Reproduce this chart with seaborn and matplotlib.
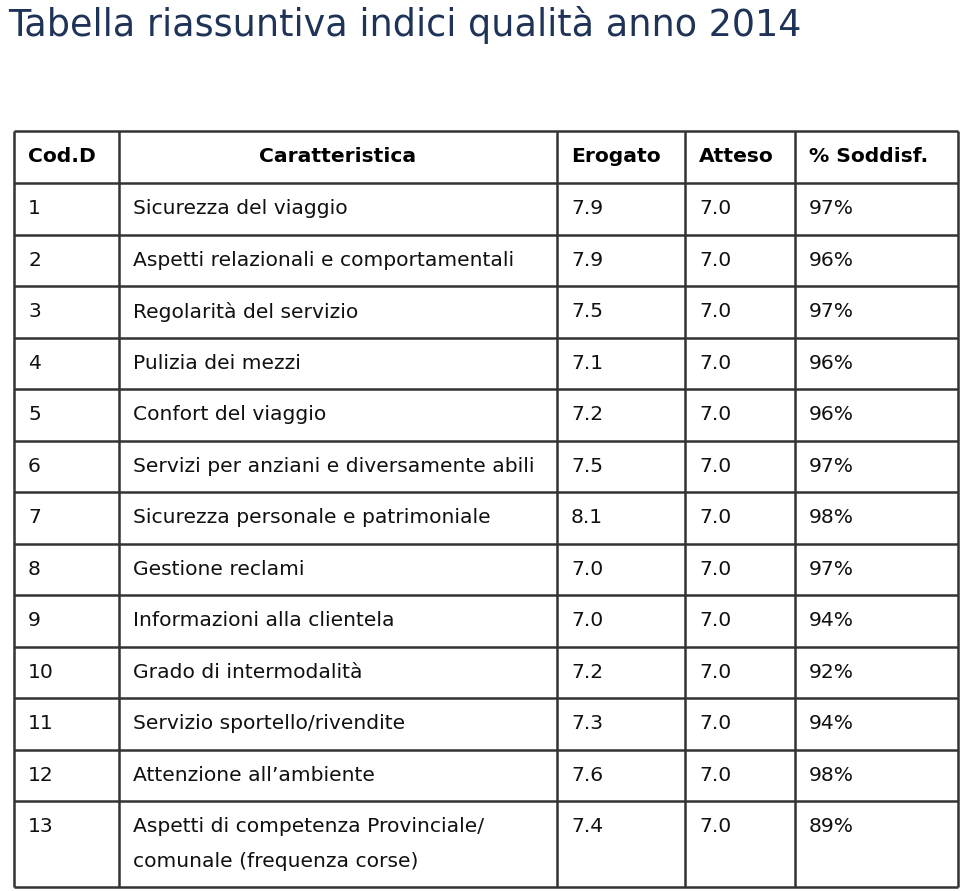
import matplotlib.pyplot as plt
import seaborn as sns

sns.set_theme(style="white")
plt.rcParams['font.family'] = ['DejaVu Sans']

# Table data
title = "Tabella riassuntiva indici qualità anno 2014"
headers = ["Cod.D", "Caratteristica", "Erogato", "Atteso", "% Soddisf."]
codes = ["1", "2", "3", "4", "5", "6", "7", "8", "9", "10", "11", "12", "13"]
caratteristica = [
    "Sicurezza del viaggio",
    "Aspetti relazionali e comportamentali",
    "Regolarità del servizio",
    "Pulizia dei mezzi",
    "Confort del viaggio",
    "Servizi per anziani e diversamente abili",
    "Sicurezza personale e patrimoniale",
    "Gestione reclami",
    "Informazioni alla clientela",
    "Grado di intermodalità",
    "Servizio sportello/rivendite",
    "Attenzione all\u2019ambiente",
    "Aspetti di competenza Provinciale/\ncomunale (frequenza corse)",
]
erogato = [7.9, 7.9, 7.5, 7.1, 7.2, 7.5, 8.1, 7.0, 7.0, 7.2, 7.3, 7.6, 7.4]
atteso = [7.0, 7.0, 7.0, 7.0, 7.0, 7.0, 7.0, 7.0, 7.0, 7.0, 7.0, 7.0, 7.0]
soddisf = [97, 96, 97, 96, 96, 97, 98, 97, 94, 92, 94, 98, 89]

# layout (pixel units)
W, H = 960, 891
col_edges = [14, 119, 557, 685, 795, 958]
top, head_h, row_h, last_h = 131, 52, 51.5, 86
line_col = "#333333"
fs = 14.6

fig = plt.figure(figsize=(W / 100, H / 100), dpi=100)
ax = fig.add_axes([0, 0, 1, 1])
ax.set_xlim(0, W)
ax.set_ylim(H, 0)
ax.axis("off")

ax.text(8, 25, title, fontsize=26.3, color="#1f3358", va="center", ha="left")

# horizontal / vertical grid lines
row_tops = [top, top + head_h]
for i in range(len(codes)):
    h = last_h if i == len(codes) - 1 else row_h
    row_tops.append(row_tops[-1] + h)
ax.hlines(row_tops, col_edges[0], col_edges[-1], color=line_col, lw=1.8)
ax.vlines(col_edges, row_tops[0], row_tops[-1], color=line_col, lw=1.8)

pad = 14
# header
hy = top + head_h / 2
for j, h in enumerate(headers):
    if j == 1:
        ax.text((col_edges[1] + col_edges[2]) / 2, hy, h, fontsize=fs,
                fontweight="bold", ha="center", va="center", color="black")
    else:
        ax.text(col_edges[j] + pad, hy, h, fontsize=fs, fontweight="bold",
                ha="left", va="center", color="black")

# body
for i in range(len(codes)):
    y = row_tops[i + 1] + row_h / 2
    vals = [codes[i], caratteristica[i], f"{erogato[i]:.1f}", f"{atteso[i]:.1f}", f"{soddisf[i]}%"]
    for j, v in enumerate(vals):
        for k, line in enumerate(v.split("\n")):
            ax.text(col_edges[j] + pad, y + k * 35, line, fontsize=fs, ha="left",
                    va="center", color="#111111")

fig.savefig("out.png", dpi=100, facecolor="white")
